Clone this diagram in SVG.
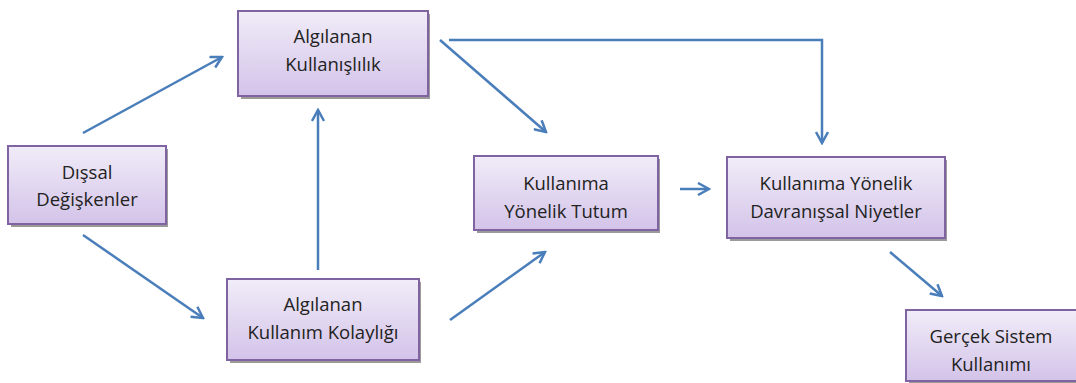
<svg xmlns="http://www.w3.org/2000/svg" width="1076" height="383" viewBox="0 0 1076 383">
<defs>
<linearGradient id="g" x1="0" y1="0" x2="0" y2="1">
<stop offset="0" stop-color="#f1ecf8"/>
<stop offset="1" stop-color="#d3c3e9"/>
</linearGradient>
<marker id="ah" markerWidth="14" markerHeight="14" viewBox="0 0 14 14" refX="12" refY="7" orient="auto" markerUnits="userSpaceOnUse">
<path d="M1,1 L12,7 L1,13" fill="none" stroke="#4a7ebb" stroke-width="2.5"/>
</marker>
</defs>
<style>
.box{fill:url(#g);stroke:#8064a2;stroke-width:2}
.sh{fill:#9a9a9a}
.t{font-family:"Open Sans","Liberation Sans",sans-serif;font-size:18.5px;fill:#222;text-anchor:middle}
.c{fill:none;stroke:#4a7ebb;stroke-width:2.5;marker-end:url(#ah)}
</style>
<rect width="1076" height="383" fill="#fff"/>
<g id="n1">
<rect class="sh" x="241" y="14" width="189" height="85"/>
<rect class="box" x="238" y="11" width="190" height="85"/>
<text class="t" x="333" y="43">Algılanan</text>
<text class="t" x="333" y="71">Kullanışlılık</text>
</g>
<g id="n2">
<rect class="sh" x="11" y="149" width="157" height="78"/>
<rect class="box" x="8" y="146" width="158" height="78"/>
<text class="t" x="87" y="179">Dışsal</text>
<text class="t" x="87" y="206">Değişkenler</text>
</g>
<g id="n3">
<rect class="sh" x="477" y="159" width="183" height="74"/>
<rect class="box" x="474" y="156" width="184" height="74"/>
<text class="t" x="566" y="190">Kullanıma</text>
<text class="t" x="566" y="218">Yönelik Tutum</text>
</g>
<g id="n4">
<rect class="sh" x="730" y="160" width="217" height="81"/>
<rect class="box" x="727" y="157" width="218" height="81"/>
<text class="t" x="836" y="190">Kullanıma Yönelik</text>
<text class="t" x="836" y="218">Davranışsal Niyetler</text>
</g>
<g id="n5">
<rect class="sh" x="230" y="282" width="191" height="81"/>
<rect class="box" x="227" y="279" width="192" height="81"/>
<text class="t" x="323" y="311">Algılanan</text>
<text class="t" x="323" y="339">Kullanım Kolaylığı</text>
</g>
<g id="n6">
<rect class="sh" x="909" y="313" width="167" height="70"/>
<rect class="box" x="906" y="310" width="172" height="71"/>
<text class="t" x="991" y="343">Gerçek Sistem</text>
<text class="t" x="991" y="371">Kullanımı</text>
</g>
<g id="connectors">
<line class="c" x1="83" y1="133" x2="222" y2="57"/>
<line class="c" x1="83" y1="235" x2="203" y2="318"/>
<line class="c" x1="318" y1="270" x2="318" y2="110"/>
<line class="c" x1="450" y1="320" x2="545" y2="252"/>
<line class="c" x1="440" y1="40" x2="546" y2="132"/>
<polyline class="c" points="449,40 822,40 822,143"/>
<line class="c" x1="680" y1="189" x2="709" y2="189"/>
<line class="c" x1="890" y1="252" x2="942" y2="296"/>
</g>
</svg>
